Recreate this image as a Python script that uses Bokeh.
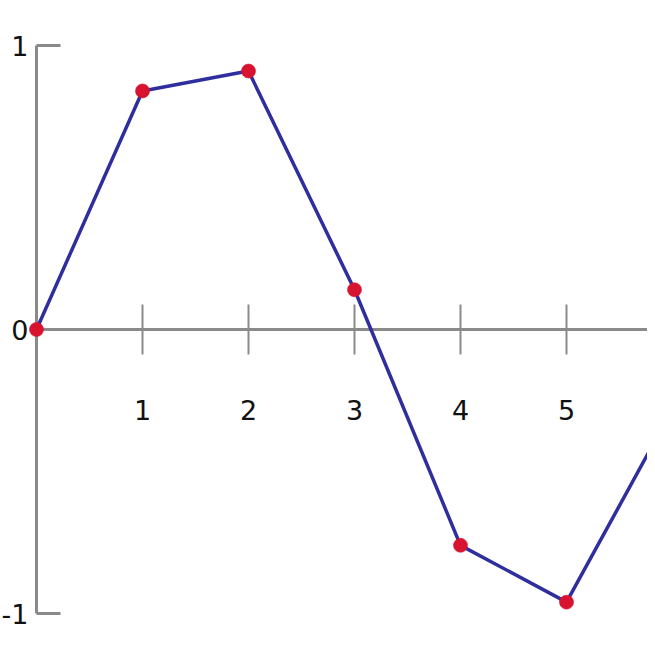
from bokeh.plotting import figure
from bokeh.models import Range1d, ColumnDataSource
from bokeh.core.properties import value
from bokeh.embed import file_html
from bokeh.resources import INLINE

# data
xs = [0, 1, 2, 3, 4, 5, 6]
ys = [0.0, 0.84, 0.91, 0.14, -0.76, -0.96, -0.28]
x_ticks = [1, 2, 3, 4, 5]
x_tick_labels = ["1", "2", "3", "4", "5"]
y_ticks = [-1, 0, 1]
y_tick_labels = ["-1", "0", "1"]

W, H = 647, 647
PX_X, PX_Y = 106.0, 284.0     # pixels per data unit
X0_PX, Y1_PX = 36.0, 45.0     # pixel position of x=0 and y=1
x_start = -X0_PX / PX_X
x_end = (W - X0_PX) / PX_X
y_end = 1 + Y1_PX / PX_Y
y_start = 1 - (H - Y1_PX) / PX_Y

p = figure(width=W, height=H, output_backend="svg", toolbar_location=None,
           x_range=Range1d(x_start, x_end), y_range=Range1d(y_start, y_end),
           min_border=0, outline_line_color=None)
p.axis.visible = False
p.grid.visible = False
p.background_fill_color = "white"
p.border_fill_color = "white"

axis_color = "#8a8a8a"
axis_w = 3

# horizontal axis at y=0
p.segment(x0=[0], y0=[0], x1=[x_end + 1], y1=[0], line_color=axis_color, line_width=axis_w)
# vertical axis
p.segment(x0=[0], y0=[min(y_ticks)], x1=[0], y1=[max(y_ticks)], line_color=axis_color, line_width=axis_w)
# end brackets
br = 24 / PX_X
p.segment(x0=[0, 0], y0=[min(y_ticks), max(y_ticks)], x1=[br, br], y1=[min(y_ticks), max(y_ticks)],
          line_color=axis_color, line_width=axis_w)
# x tick marks
th = 25 / PX_Y
p.segment(x0=x_ticks, y0=[-th] * len(x_ticks), x1=x_ticks, y1=[th] * len(x_ticks),
          line_color=axis_color, line_width=2)

# x tick labels
p.text(x=x_ticks, y=[0] * len(x_ticks), text=x_tick_labels, y_offset=80,
       text_align="center", text_baseline="middle", text_font=value("DejaVu Sans"),
       text_font_size="27px", text_color="#111111")
# y tick labels
p.text(x=[0] * len(y_ticks), y=y_ticks, text=y_tick_labels, x_offset=-8,
       text_align="right", text_baseline="middle", text_font=value("DejaVu Sans"),
       text_font_size="27px", text_color="#111111")

src = ColumnDataSource(dict(x=xs, y=ys))
p.line("x", "y", source=src, line_color="#2e2e9e", line_width=3.5)
p.scatter("x", "y", source=src, size=14, fill_color="#d8132f", line_color="#d8132f", line_alpha=0.6)

open("out.html", "w").write(file_html(p, INLINE))
